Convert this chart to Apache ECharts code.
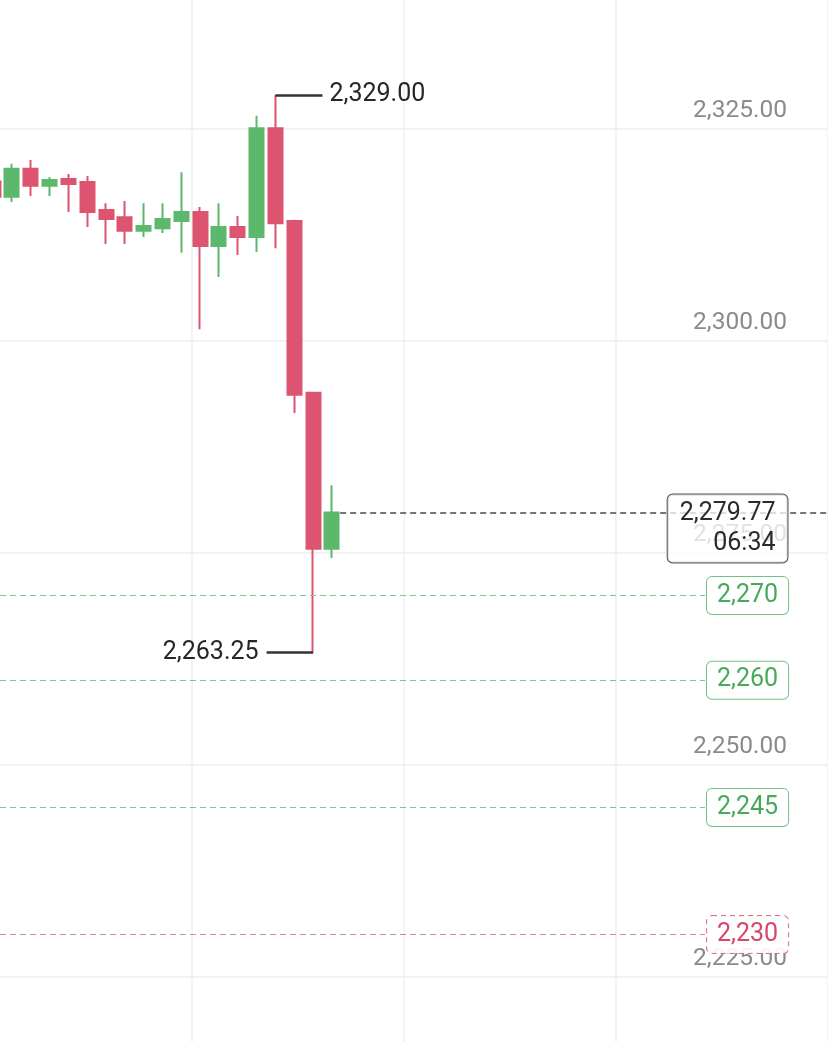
<!DOCTYPE html>
<html>
<head>
<meta charset="utf-8">
<script src="https://cdn.jsdelivr.net/npm/echarts@6/dist/echarts.min.js"></script>
<style>
html,body{margin:0;padding:0;background:#ffffff;}
#chart{width:828px;height:1042px;}
</style>
</head>
<body>
<div id="chart"></div>
<script>
// ---- data ----
const candleIndex = [0,1,2,3,4,5,6,7,8,9,10,11,12,13,14,15,16,17,18];
const opens  = [2318.80,2317.00,2320.30,2318.30,2319.10,2318.75,2315.45,2314.60,2313.00,2313.30,2314.15,2315.20,2311.20,2313.45,2312.25,2325.10,2314.15,2293.90,2275.50];
const closes = [2317.00,2320.30,2318.30,2319.00,2318.50,2315.20,2314.40,2313.00,2313.55,2314.40,2315.20,2311.20,2313.45,2312.25,2325.10,2313.90,2293.65,2275.50,2279.77];
const lows   = [2315.80,2316.40,2317.10,2317.10,2315.20,2313.45,2311.45,2311.45,2312.25,2312.75,2310.40,2301.40,2307.55,2310.15,2310.50,2310.95,2291.50,2263.25,2274.40];
const highs  = [2319.80,2320.90,2321.35,2319.35,2319.70,2319.45,2316.25,2316.50,2316.25,2316.25,2319.90,2315.80,2316.25,2314.75,2326.55,2329.00,2314.30,2294.00,2283.00];
const supportLevels = [2270, 2260, 2245];
const stopLevels = [2230];
const countdown = '06:34';
const yTicks = { min: 2200, max: 2350, interval: 25 };

// ---- style / layout constants ----
const W = 828, H = 1042;
const GREEN = '#5cb86c', RED = '#dc5470';
const FONT = 'Roboto';
const xMin = 0.3624, xMax = 44.3624;           // candle-index window
const pxPerUnit = W / (xMax - xMin);
const xAt = px => xMin + px / pxPerUnit;
const yPx = 8.48;                               // pixels per price unit
const gridTop = 129 - (yTicks.max - 2325) * yPx;
const gridHeight = (yTicks.max - yTicks.min) * yPx;
const barW = 14.5;

const fmt2 = v => Number(v).toLocaleString('en-US', {minimumFractionDigits: 2, maximumFractionDigits: 2});
const fmt0 = v => Number(v).toLocaleString('en-US', {maximumFractionDigits: 0});

const candleData = candleIndex.map((x, i) => [x, opens[i], closes[i], lows[i], highs[i]]);

// high / low annotations
let hiIdx = 0, loIdx = 0;
highs.forEach((v, i) => { if (v > highs[hiIdx]) hiIdx = i; });
lows.forEach((v, i) => { if (v < lows[loIdx]) loIdx = i; });
const lastIdx = candleIndex.length - 1;
const lastPrice = closes[lastIdx];

const markLines = [];
// high
markLines.push([
  { coord: [candleIndex[hiIdx], highs[hiIdx]],
    lineStyle: { color: '#333', width: 2.5, type: 'solid' },
    label: { show: true, position: 'end', distance: 7, formatter: () => fmt2(highs[hiIdx]),
             color: '#262626', fontSize: 25, fontFamily: FONT } },
  { coord: [candleIndex[hiIdx] + 47 / pxPerUnit, highs[hiIdx]] }
]);
// low
markLines.push([
  { coord: [candleIndex[loIdx], lows[loIdx]],
    lineStyle: { color: '#333', width: 2.5, type: 'solid' },
    label: { show: true, position: 'end', distance: 8, formatter: () => fmt2(lows[loIdx]),
             color: '#262626', fontSize: 25, fontFamily: FONT } },
  { coord: [candleIndex[loIdx] - 46.5 / pxPerUnit, lows[loIdx]] }
]);
// current price line
markLines.push([
  { coord: [candleIndex[lastIdx] + (barW / 2 + 1) / pxPerUnit, lastPrice],
    lineStyle: { color: '#4a4a4a', width: 1.5, type: [6, 4] },
    label: { show: false } },
  { coord: [xMax, lastPrice] }
]);
// support levels (green tags)
supportLevels.forEach(lv => {
  markLines.push([
    { coord: [xMin, lv],
      lineStyle: { color: '#7cc68a', width: 1, type: [6, 4] },
      label: { show: true, position: 'end', distance: 2, formatter: () => fmt0(lv),
               color: '#45aa5c', fontSize: 25, fontFamily: FONT, lineHeight: 26,
               backgroundColor: '#ffffff', borderColor: '#72c283', borderWidth: 1, borderRadius: 5,
               padding: [6, 10, 5, 10] } },
    { coord: [xAt(705), lv] }
  ]);
});
// stop levels (red tags)
stopLevels.forEach(lv => {
  markLines.push([
    { coord: [xMin, lv],
      lineStyle: { color: '#c98c9b', width: 1, type: [6, 4] },
      label: { show: true, position: 'end', distance: 2, formatter: () => fmt0(lv),
               color: '#d4466a', fontSize: 25, fontFamily: FONT, lineHeight: 26,
               backgroundColor: 'rgba(255,255,255,0.9)', borderColor: '#d9738c', borderWidth: 1,
               borderType: [5, 4], borderRadius: 5, padding: [6, 10, 5, 10] } },
    { coord: [xAt(705), lv] }
  ]);
});

const chart = echarts.init(document.getElementById('chart'), null, {renderer: 'canvas'});
chart.setOption({
  animation: false,
  backgroundColor: '#ffffff',
  grid: [
    { left: 0, top: gridTop, width: W, height: gridHeight, containLabel: false, outerBoundsMode: 'none' },
    { left: -20.5, top: 0, width: 212 * 5, height: H, containLabel: false, outerBoundsMode: 'none' }
  ],
  xAxis: [
    { type: 'value', gridIndex: 0, min: xMin, max: xMax, show: false },
    { type: 'value', gridIndex: 1, min: 0, max: 5, interval: 1,
      axisLine: { show: false }, axisTick: { show: false }, axisLabel: { show: false },
      splitLine: { show: true, lineStyle: { color: '#efefef', width: 1.5 } } }
  ],
  yAxis: [
    { type: 'value', gridIndex: 0, position: 'right', min: yTicks.min, max: yTicks.max, interval: yTicks.interval,
      axisLine: { show: false }, axisTick: { show: false },
      splitLine: { show: true, lineStyle: { color: '#efefef', width: 1.5 } },
      axisLabel: { inside: true, margin: 41, formatter: v => fmt2(v), color: '#8a8a8a',
                   fontSize: 24.5, fontFamily: FONT, verticalAlign: 'bottom', lineHeight: 24,
                   padding: [0, 0, 6, 0] } },
    { type: 'value', gridIndex: 1, min: 0, max: 1, show: false }
  ],
  series: [{
    type: 'candlestick',
    xAxisIndex: 0, yAxisIndex: 0,
    data: candleData,
    barWidth: barW,
    itemStyle: { color: GREEN, color0: RED, borderColor: GREEN, borderColor0: RED, borderWidth: 2 },
    markLine: { symbol: ['none', 'none'], silent: true, animation: false, data: markLines },
    markPoint: {
      silent: true, animation: false,
      data: [{
        coord: [xAt(788), lastPrice],
        symbol: 'circle', symbolSize: 1,
        itemStyle: { color: 'rgba(0,0,0,0)' },
        label: { show: true, position: 'left', distance: 0, offset: [0, 16],
                 formatter: () => fmt2(lastPrice) + '\n' + countdown,
                 align: 'right', color: '#2a2a2a', fontSize: 25, fontFamily: FONT, lineHeight: 30,
                 backgroundColor: 'rgba(255,255,255,0.75)', borderColor: '#555555', borderWidth: 1,
                 borderRadius: 5, padding: [4, 12, 4, 12] }
      }]
    }
  }]
});
</script>
</body>
</html>
